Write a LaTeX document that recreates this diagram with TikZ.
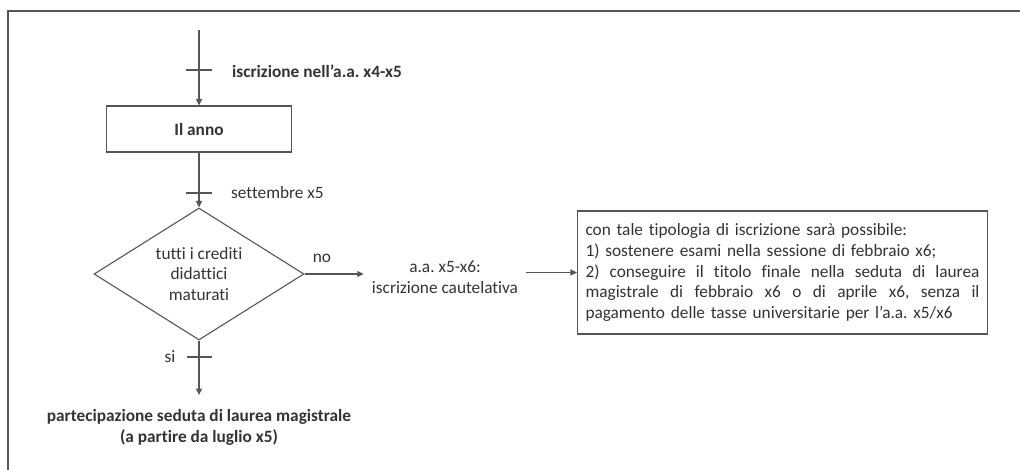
\documentclass[tikz,border=0pt]{standalone}
\usepackage{fontspec}
\setmainfont[Ligatures=NoCommon]{Carlito}
\usetikzlibrary{arrows.meta,shapes.geometric}
\definecolor{ink}{HTML}{333333}
\definecolor{rule}{HTML}{555555}
\frenchspacing
% one fully justified line of the info box
\newcommand{\fullline}[1]{\leavevmode\hbox to 394pt{#1}}

\begin{document}
\begin{tikzpicture}[x=1pt,y=-1pt,
  font=\fontsize{17.3}{20.8}\selectfont,
  every node/.style={text=ink},
  line/.style={draw=rule,line width=1.1pt},
  arr/.style={line,-{Triangle[length=6.5pt,width=6pt]}},
  tick/.style={line},
  stepbox/.style={line,minimum width=185pt,minimum height=46pt,inner sep=0pt},
  infobox/.style={line,text width=394pt,inner xsep=8pt,minimum height=123pt,align=left},
  decision/.style={line,shape=diamond,aspect=1.59,minimum width=210pt,minimum height=132pt,inner sep=1pt,align=center},
  lbl/.style={inner sep=0pt}
]
\useasboundingbox (0,0) rectangle (1020,470);

% outer frame
\draw[line] (8,470) -- (8,11) -- (1020,11);

% entry and second year
\coordinate (start) at (199,30);
\node[stepbox] (anno) at (199,129) {\bfseries Il anno};
\draw[arr] (start) -- (anno.north);
\coordinate (t1) at (199,70);
\draw[tick] (t1) ++(-13,0) -- ++(26,0);
\node[lbl,anchor=west] (iscr) at (232,71) {\bfseries iscrizione nell'a.a. x4-x5};

% decision
\node[decision] (dec) at (199,274) {tutti i crediti\\didattici\\maturati};
\draw[arr] (anno.south) -- (dec.north);
\coordinate (t2) at (199,193);
\draw[tick] (t2) ++(-13,0) -- ++(26,0);
\node[lbl,anchor=west] (sett) at (231,193) {settembre x5};

% yes branch
\node[anchor=north,inner xsep=0pt,inner ysep=14pt,align=center] (part) at (199,395)
  {\bfseries partecipazione seduta di laurea magistrale\\\bfseries (a partire da luglio x5)};
\draw[arr] (dec.south) -- (part.north);
\coordinate (t3) at (199,357);
\draw[tick] (t3) ++(-12,0) -- ++(25,0);
\node[lbl] (si) at (170,357) {si};

% no branch
\node[inner xsep=8pt,align=center] (aa) at (445,277) {a.a. x5-x6:\\iscrizione cautelativa};
\draw[arr] (dec.east) -- (dec.east -| aa.west);
\node[lbl] (no) at (322,258) {no};

\node[infobox] (info) at (782.5,272.5) {%
con tale tipologia di iscrizione sarà possibile:\\
1) sostenere esami nella sessione di febbraio x6;\\
\fullline{2)\hfill conseguire\hfill il\hfill titolo\hfill finale\hfill nella\hfill seduta\hfill di\hfill laurea}\\
\fullline{magistrale\hfill di\hfill febbraio\hfill x6\hfill o\hfill di\hfill aprile\hfill x6,\hfill senza\hfill il}\\
pagamento delle tasse universitarie per l’a.a. x5/x6};
\draw[arr] (aa.east |- info.west) -- (info.west);
\end{tikzpicture}
\end{document}
